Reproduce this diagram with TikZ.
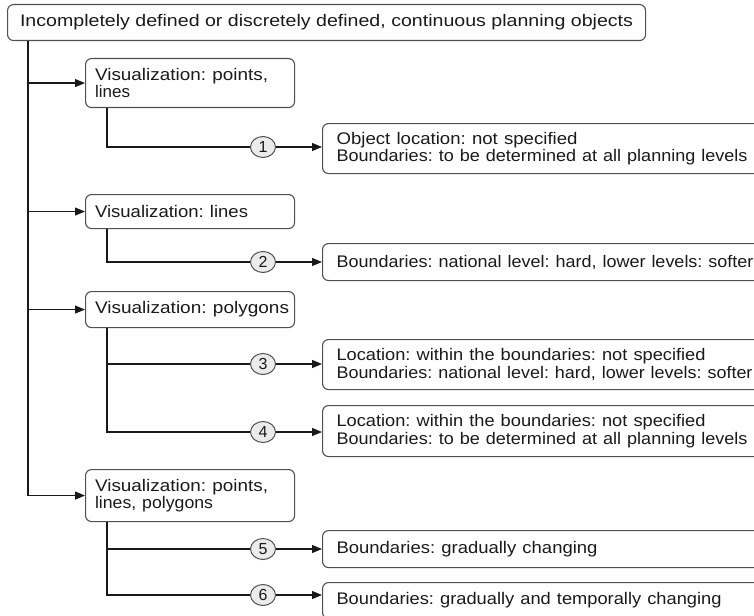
\documentclass[tikz,border=0pt]{standalone}
\usepackage{fontspec}
\setmainfont{Liberation Sans}
\usetikzlibrary{arrows.meta,shapes.geometric}
\definecolor{boxline}{HTML}{505050}
\definecolor{txt}{HTML}{1A1A1A}
\definecolor{circfill}{HTML}{EBEBEB}
\newsavebox\fwbox
\newcommand\fw[2]{\sbox\fwbox{#2}\pgfmathsetmacro\fwx{#1/\wd\fwbox}\scalebox{\fwx}[1]{\usebox\fwbox}}
\newcommand\tightlines{\lineskiplimit=-20pt\relax\frenchspacing}
\begin{document}
\begin{tikzpicture}[x=1pt,y=-1pt,
  every node/.style={text=txt, font=\fontsize{16.8}{17.5}\selectfont\tightlines},
  bx/.style={draw=boxline, line width=1.1pt, rounded corners=6pt, anchor=north west, inner ysep=0pt},
  lbox/.style={bx, inner xsep=9.5pt, text width=190pt, align=left},
  rbox/.style={bx, inner xsep=14pt, text width=430pt, align=left},
  num/.style={ellipse, draw=boxline, fill=circfill, line width=1pt, minimum width=25pt, minimum height=21pt, inner sep=0pt, font=\fontsize{16}{16}\selectfont},
  conn/.style={draw=black!90, line width=1.1pt},
  arr/.style={conn, -{Triangle[length=10pt,width=8pt]}}]
\useasboundingbox (0,0) rectangle (754,615);
\clip (0,0) rectangle (754,615);

% main box
\node[bx, inner xsep=0pt, minimum width=638pt, minimum height=36pt, align=center] (top) at (7,4)
  {\fw{613}{Incompletely defined or discretely defined, continuous planning objects}};

% left boxes
\node[lbox, minimum height=49pt] (va) at (85,58) {\fw{173}{Visualization: points,}\\\fw{35}{lines}};
\node[lbox, minimum height=34pt] (vl) at (85,194) {\fw{153}{Visualization: lines}};
\node[lbox, minimum height=36pt] (vp) at (85,291) {\fw{194}{Visualization: polygons}};
\node[lbox, minimum height=52pt] (vplp) at (85,469) {\fw{173}{Visualization: points,}\\\fw{118}{lines, polygons}};

% right boxes
\node[rbox, minimum height=50pt] (b1) at (322,123)
  {\fw{241}{Object location: not specified}\\\fw{411}{Boundaries: to be determined at all planning levels}};
\node[rbox, minimum height=37pt] (b2) at (322,243)
  {\fw{417}{Boundaries: national level: hard, lower levels: softer}};
\node[rbox, minimum height=50pt] (b3) at (322,339)
  {\fw{369}{Location: within the boundaries: not specified}\\\fw{416}{Boundaries: national level: hard, lower levels: softer}};
\node[rbox, minimum height=51pt] (b4) at (322,405)
  {\fw{369}{Location: within the boundaries: not specified}\\\fw{411}{Boundaries: to be determined at all planning levels}};
\node[rbox, minimum height=37pt] (b5) at (322,530)
  {\fw{261}{Boundaries: gradually changing}};
\node[rbox, minimum height=36pt] (b6) at (322,582)
  {\fw{385}{Boundaries: gradually and temporally changing}};

% number markers
\node[num] (n1) at (263,147) {1};
\node[num] (n2) at (263,262) {2};
\node[num] (n3) at (263,364) {3};
\node[num] (n4) at (263,432) {4};
\node[num] (n5) at (263,549) {5};
\node[num] (n6) at (263,595) {6};

% trunk
\coordinate (tr) at (28,0);
\draw[arr] (top.south -| tr) |- (vplp.west);
\draw[arr] (tr |- va.west) -- (va.west);
\draw[arr] (tr |- vl.west) -- (vl.west);
\draw[arr] (tr |- vp.west) -- (vp.west);

% sub connectors
\coordinate (sa) at (107,0);
\draw[conn] (va.south -| sa) |- (n1.west);
\draw[conn] (vl.south -| sa) |- (n2.west);
\draw[conn] (vp.south -| sa) |- (n4.west);
\draw[conn] (sa |- n3) -- (n3.west);
\draw[conn] (vplp.south -| sa) |- (n6.west);
\draw[conn] (sa |- n5) -- (n5.west);

\draw[arr] (n1.east) -- (b1.west |- n1);
\draw[arr] (n2.east) -- (b2.west |- n2);
\draw[arr] (n3.east) -- (b3.west |- n3);
\draw[arr] (n4.east) -- (b4.west |- n4);
\draw[arr] (n5.east) -- (b5.west |- n5);
\draw[arr] (n6.east) -- (b6.west |- n6);
\end{tikzpicture}
\end{document}
